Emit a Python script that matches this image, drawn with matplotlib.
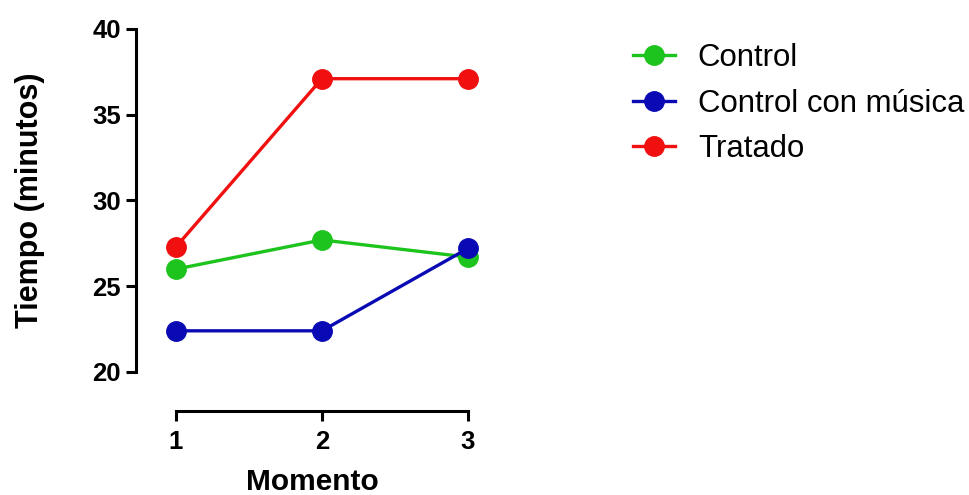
import matplotlib.pyplot as plt

plt.rcParams['font.family'] = ['Liberation Sans', 'DejaVu Sans']

momentos = [1, 2, 3]
control = [26.0, 27.7, 26.7]
control_musica = [22.4, 22.4, 27.2]
tratado = [27.3, 37.1, 37.1]

series = [
    ("Control", control, "#1ec41e"),
    ("Control con música", control_musica, "#0a0ab4"),
    ("Tratado", tratado, "#f01010"),
]

fig = plt.figure(figsize=(9.69, 4.95), dpi=100)
ax = fig.add_axes([0.1403, 0.2485, 0.365, 0.693])

for name, vals, col in series:
    ax.plot(momentos, vals, "-o", color=col, lw=2.4, ms=14, label=name)

ax.set_xlim(0.725, 3.15)
ax.set_ylim(20, 40)
ax.set_xticks(momentos)
ax.set_yticks([20, 25, 30, 35, 40])

for side in ("top", "right"):
    ax.spines[side].set_visible(False)
ax.spines["left"].set_linewidth(2.2)
ax.spines["bottom"].set_linewidth(2.2)
ax.spines["bottom"].set_position(("outward", 28))
ax.spines["bottom"].set_bounds(1, 3)
ax.tick_params(width=2.2, length=7, labelsize=18.5)
ax.tick_params(axis="y", pad=4)
ax.tick_params(axis="x", pad=7)
for lab in ax.get_xticklabels() + ax.get_yticklabels():
    lab.set_fontweight("bold")

ax.set_xlabel("Momento", fontsize=21.5, fontweight="bold", labelpad=10)
ax.set_ylabel("Tiempo (minutos)", fontsize=22, fontweight="bold", labelpad=34)

fig.legend(loc="upper left", bbox_to_anchor=(0.653, 0.913), frameon=False,
           fontsize=22.4, handlelength=1.35, handletextpad=0.74, labelspacing=0.5,
           borderpad=0, borderaxespad=0)

fig.savefig("out.png", dpi=100)
